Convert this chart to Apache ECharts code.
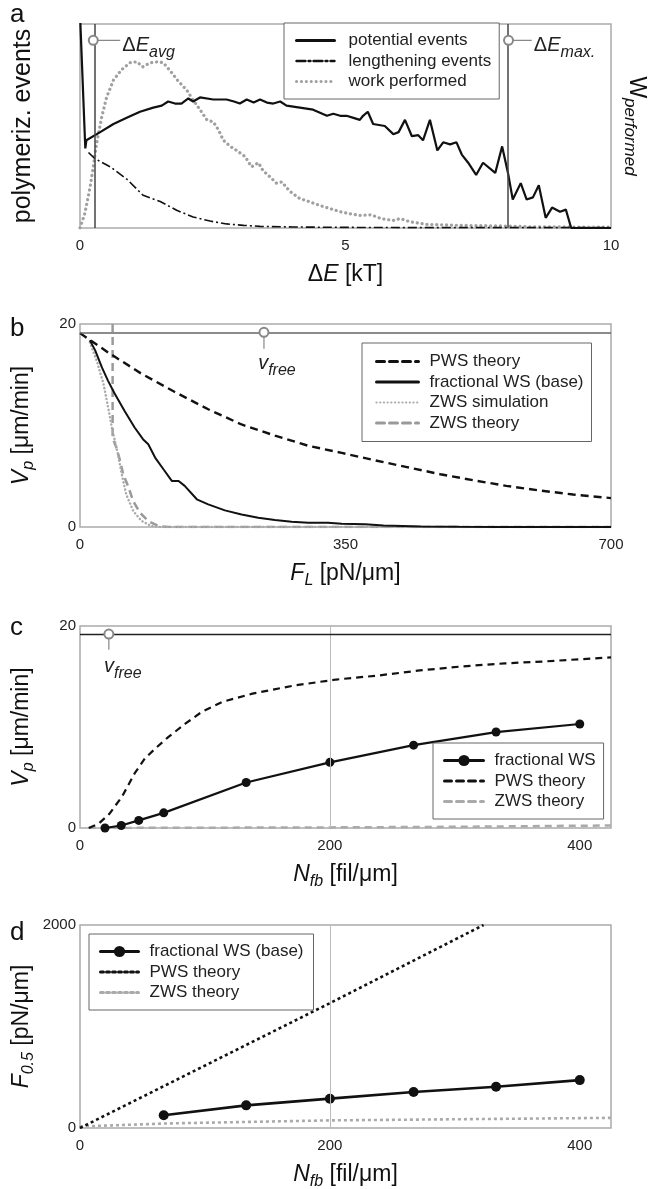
<!DOCTYPE html>
<html>
<head>
<meta charset="utf-8">
<script src="https://cdn.jsdelivr.net/npm/echarts@6.0.0/dist/echarts.min.js"></script>
<style>
  html, body { margin: 0; padding: 0; background: #fff; }
  #chart { width: 657px; height: 1189px; }
</style>
</head>
<body>
<div id="chart"></div>
<script>
// ---- panel a: polymerization events vs ΔE (normalized) ----
const aPotential = [[0.0, 1.05], [0.1, 0.39], [0.12, 0.43], [0.38, 0.47], [0.63, 0.51], [0.88, 0.54], [1.13, 0.57],
  [1.38, 0.59], [1.54, 0.60], [1.66, 0.62], [1.79, 0.61], [1.91, 0.61], [2.04, 0.635], [2.13, 0.62], [2.26, 0.64],
  [2.51, 0.63], [2.76, 0.63], [2.9, 0.62], [3.01, 0.61], [3.14, 0.63], [3.27, 0.615], [3.39, 0.63], [3.52, 0.615],
  [3.64, 0.61], [3.77, 0.62], [3.89, 0.60], [4.14, 0.59], [4.39, 0.58], [4.52, 0.565], [4.65, 0.55], [4.77, 0.56],
  [4.9, 0.55], [5.02, 0.55], [5.15, 0.54], [5.27, 0.53], [5.33, 0.55], [5.42, 0.57], [5.52, 0.51], [5.74, 0.50],
  [5.9, 0.46], [6.0, 0.47], [6.12, 0.53], [6.25, 0.45], [6.37, 0.455], [6.46, 0.43], [6.59, 0.53], [6.73, 0.38],
  [6.84, 0.42], [6.97, 0.41], [7.09, 0.42], [7.19, 0.36], [7.31, 0.32], [7.46, 0.26], [7.59, 0.32], [7.82, 0.27],
  [7.95, 0.40], [8.06, 0.27], [8.15, 0.14], [8.3, 0.22], [8.41, 0.14], [8.53, 0.15], [8.64, 0.21], [8.77, 0.05],
  [8.89, 0.10], [9.04, 0.08], [9.15, 0.09], [9.25, 0], [10, 0]];
const aLengthening = [[0.16, 0.37], [0.28, 0.34], [0.57, 0.30], [0.88, 0.24], [1.19, 0.16], [1.51, 0.13], [1.82, 0.087],
  [2.13, 0.054], [2.45, 0.034], [2.76, 0.02], [3.08, 0.013], [3.39, 0.008], [4.0, 0.005], [5, 0.003], [6, 0.002], [10, 0.002]];
const aWork = [[0, 0], [0.09, 0.07], [0.19, 0.2], [0.25, 0.3], [0.31, 0.41], [0.41, 0.545], [0.5, 0.64], [0.63, 0.725],
  [0.78, 0.775], [0.94, 0.81], [1.07, 0.815], [1.18, 0.79], [1.32, 0.81], [1.48, 0.815], [1.57, 0.81], [1.7, 0.77],
  [1.85, 0.72], [2.01, 0.676], [2.13, 0.627], [2.26, 0.58], [2.39, 0.53], [2.51, 0.52], [2.61, 0.48], [2.7, 0.43],
  [2.83, 0.4], [2.95, 0.38], [3.11, 0.35], [3.23, 0.3], [3.36, 0.32], [3.45, 0.28], [3.58, 0.25], [3.7, 0.22],
  [3.8, 0.226], [3.95, 0.18], [4.14, 0.144], [4.33, 0.128], [4.52, 0.11], [4.71, 0.095], [4.9, 0.08], [5.08, 0.07],
  [5.27, 0.062], [5.48, 0.065], [5.67, 0.046], [5.9, 0.037], [6.03, 0.046], [6.22, 0.03], [6.53, 0.018], [7.16, 0.013],
  [7.97, 0.01], [8.5, 0.006], [10, 0.004]];
const aEnergyLines = [0.27, 8.06];            // ΔE_avg, ΔE_max
const aAvgTag = [[0.25, 0.92], [0.75, 0.92]];
const aMaxTag = [[8.07, 0.92], [8.5, 0.92]];

// ---- panel b: V_p vs F_L ----
const bPws = [[0, 19.1], [37, 17.2], [81, 15.1], [125, 13.3], [169, 11.6], [213, 10.1], [257, 9.0], [301, 8.0],
  [345, 7.3], [387, 6.6], [431, 5.9], [475, 5.2], [519, 4.6], [562, 4.05], [606, 3.6], [650, 3.2], [700, 2.85]];
const bFractional = [[13, 18.4], [20, 17.4], [29, 15.7], [37, 14.4], [46, 13.1], [59, 11.4], [72, 9.8], [83, 8.65],
  [90, 8.15], [99, 6.84], [110, 5.69], [121, 4.54], [130, 4.54], [138, 4.05], [154, 2.73], [169, 2.23], [191, 1.64],
  [213, 1.24], [235, 0.92], [257, 0.69], [279, 0.52], [301, 0.42], [327, 0.42], [345, 0.33], [376, 0.26], [400, 0.15],
  [450, 0.06], [500, 0.02], [550, 0], [700, 0]];
const bZwsSim = [[13, 18.2], [22, 16.4], [31, 14.1], [37, 11.8], [42, 9.8], [50, 7.2], [55, 5.2], [61, 3.2], [70, 1.6],
  [81, 0.6], [94, 0.1], [105, 0], [700, 0]];
const bZwsTheory = [[43, 20], [43, 8.8], [48, 7.8], [53, 6.5], [57, 5.2], [64, 3.9], [70, 2.57], [79, 1.41], [90, 0.59],
  [103, 0.1], [116, 0], [700, 0]];
const bVfree = 19.18;
const bVfreeTag = [[242.5, 19.18], [242.5, 17.6]];

// ---- panel c: V_p vs N_fb ----
const cNfb = [20, 33, 47, 67, 133, 200, 267, 333, 400];
const cFractional = [0, 0.25, 0.75, 1.5, 4.5, 6.5, 8.2, 9.5, 10.3];
const cPws = [[7, 0], [15, 0.43], [23.5, 1.4], [33.6, 3.1], [43.7, 5.4], [52, 6.9], [60.5, 7.9], [70.6, 9.0], [84, 10.3],
  [97.5, 11.5], [114, 12.5], [138, 13.3], [171, 14.1], [205, 14.7], [239, 15.1], [272, 15.6], [306, 16.0], [340, 16.3],
  [373, 16.5], [425, 16.9]];
const cZws = [[7, 0], [100, 0.03], [200, 0.06], [300, 0.12], [425, 0.25]];
const cVfree = 19.2;
const cVfreeTag = [[23.1, 19.2], [23.1, 17.7]];

// ---- panel d: F_0.5 vs N_fb ----
const dNfb = [67, 133, 200, 267, 333, 400];
const dFractional = [125, 223, 289, 354, 407, 472];
const dPws = [[0, 0], [200, 1230], [323, 2000]];
const dZws = [[0, 15], [70, 45], [200, 75], [425, 100]];

const gridLine = 200;

const FONT = '"Liberation Sans", Arial, Helvetica, sans-serif';
const INK = '#111';

const nameRich = {
  n: { fontSize: 23, lineHeight: 30, fontFamily: FONT, color: INK },
  i: { fontSize: 23, lineHeight: 30, fontFamily: FONT, color: INK, fontStyle: 'italic' },
  s: { fontSize: 16, lineHeight: 16, fontFamily: FONT, color: INK, fontStyle: 'italic', verticalAlign: 'bottom' },
  big: { fontSize: 25, lineHeight: 30, fontFamily: FONT, color: INK },
  w: { fontSize: 23, lineHeight: 30, fontFamily: FONT, color: INK },
  ws: { fontSize: 17, lineHeight: 17, fontFamily: FONT, color: INK, fontStyle: 'italic', verticalAlign: 'bottom' }
};
const tagRich = {
  n: { fontSize: 20, lineHeight: 30, fontFamily: FONT, color: '#222' },
  i: { fontSize: 20, lineHeight: 30, fontFamily: FONT, color: '#222', fontStyle: 'italic' },
  s: { fontSize: 16, lineHeight: 16, fontFamily: FONT, color: '#222', fontStyle: 'italic', verticalAlign: 'bottom' }
};

const xAxisBase = (gridIndex, min, max, interval, name, showMax) => ({
  type: 'value', gridIndex, min, max, interval,
  axisLine: { show: false }, axisTick: { show: false }, splitLine: { show: false },
  axisLabel: { fontSize: 15, color: '#222', margin: 10, fontFamily: FONT, showMaxLabel: showMax,
    formatter: v => String(v) },
  name, nameLocation: 'middle', nameGap: 32, nameMoveOverlap: false,
  nameTextStyle: { lineHeight: 30, rich: nameRich }
});
const yAxisBase = (gridIndex, min, max, interval, name, showLabels) => ({
  type: 'value', gridIndex, min, max, interval,
  axisLine: { show: false }, axisTick: { show: false }, splitLine: { show: false },
  axisLabel: { show: showLabels, fontSize: 15, color: '#222', margin: 4, fontFamily: FONT,
    formatter: v => String(v) },
  name, nameLocation: 'middle', nameGap: 43, nameMoveOverlap: false,
  nameTextStyle: { lineHeight: 30, rich: nameRich }
});

// legend items: plain lines get an invisible marker, marked lines keep their circle
const legendItem = (name, width, marker) => ({
  name,
  lineStyle: { width, cap: 'round' },
  itemStyle: marker ? {} : { opacity: 0 }
});
const legendBase = (items, left, top, itemWidth, padding, textGap) => ({
  data: items.map(it => legendItem(it[0], it[1], it[2])),
  left, top, orient: 'vertical', itemWidth, itemHeight: 14, itemGap: 3.5, padding,
  borderColor: '#666', borderWidth: 1, backgroundColor: '#fff', selectedMode: false,
  textStyle: { fontSize: 17, lineHeight: 14, color: '#222', fontFamily: FONT, padding: [0, 0, 0, textGap] },
  formatter: name => name.slice(2)
});

const vline = (values, color, width) => ({
  silent: true, symbol: ['none', 'none'], label: { show: false },
  lineStyle: { color, width, type: 'solid' },
  data: values.map(v => ({ xAxis: v }))
});
const hline = (value, color, width) => ({
  silent: true, symbol: ['none', 'none'], label: { show: false },
  lineStyle: { color, width, type: 'solid' },
  data: [{ yAxis: value }]
});

// small circle + leader line + italic label
const tag = (xi, yi, pts, text, position, offset, lineColor) => ({
  type: 'line', xAxisIndex: xi, yAxisIndex: yi, silent: true, z: 6,
  lineStyle: { color: lineColor, width: 1.2 },
  itemStyle: { color: '#888', borderWidth: 1.2 },
  data: [
    { value: pts[0], symbol: 'emptyCircle', symbolSize: 9 },
    { value: pts[1], symbol: 'circle', symbolSize: 1,
      label: { show: true, position, distance: 2, offset, formatter: text, rich: tagRich } }
  ]
});

const chart = echarts.init(document.getElementById('chart'), null, { renderer: 'canvas' });

const option = {
  animation: false,
  backgroundColor: '#fff',
  title: [
    { text: 'a', left: 10, top: 2 },
    { text: 'b', left: 10, top: 316 },
    { text: 'c', left: 10, top: 615 },
    { text: 'd', left: 10, top: 920 }
  ].map(t => ({ ...t, padding: 0, textStyle: { fontSize: 26, fontWeight: 'normal', color: INK, fontFamily: FONT } })),
  grid: [
    { left: 80, top: 24, width: 531, height: 204 },
    { left: 80, top: 324, width: 531, height: 203 },
    { left: 80, top: 626, width: 531, height: 202 },
    { left: 80, top: 925, width: 531, height: 203 }
  ].map(g => ({ ...g, show: true, borderColor: '#aaa', borderWidth: 1.5, backgroundColor: 'transparent',
    containLabel: false, outerBoundsMode: 'none' })),
  xAxis: [
    xAxisBase(0, 0, 10, 5, '{n|Δ}{i|E}{n| [kT]}', true),
    xAxisBase(1, 0, 700, 350, '{i|F}{s|L}{n| [pN/μm]}', true),
    xAxisBase(2, 0, 425, 200, '{i|N}{s|fb}{n| [fil/μm]}', false),
    xAxisBase(3, 0, 425, 200, '{i|N}{s|fb}{n| [fil/μm]}', false)
  ],
  yAxis: [
    { ...yAxisBase(0, 0, 1, 1, '{big|polymeriz. events}', false), nameGap: 42 },
    { ...yAxisBase(0, 0, 1, 1, '{w|W}{ws|performed}', false), position: 'right', nameRotate: -90, nameGap: 10 },
    yAxisBase(1, 0, 20, 20, '{i|V}{s|p}{n| [μm/min]}', true),
    yAxisBase(2, 0, 20, 20, '{i|V}{s|p}{n| [μm/min]}', true),
    yAxisBase(3, 0, 2000, 2000, '{i|F}{s|0.5}{n| [pN/μm]}', true)
  ],
  legend: [
    legendBase([['a:potential events', 3], ['a:lengthening events', 2.4], ['a:work performed', 3]],
      284, 23, 38, [9, 8, 9, 11], 9),
    legendBase([['b:PWS theory', 3], ['b:fractional WS (base)', 3], ['b:ZWS simulation', 2.2], ['b:ZWS theory', 3]],
      362, 343, 42, [10, 8, 10, 13], 6),
    legendBase([['c:fractional WS', 3, true], ['c:PWS theory', 3], ['c:ZWS theory', 3]], 433, 743, 39, [9, 8, 9, 10], 6),
    legendBase([['d:fractional WS (base)', 3, true], ['d:PWS theory', 3], ['d:ZWS theory', 3]], 89, 934, 38, [9, 10, 9, 10], 6)
  ],
  series: [
    // a
    { name: 'a:work performed', type: 'line', xAxisIndex: 0, yAxisIndex: 0, data: aWork, symbol: 'none',
      lineStyle: { color: '#a0a0a0', width: 3.2, type: [0.1, 4.8], cap: 'round' }, itemStyle: { color: '#a0a0a0' } },
    { name: 'a:lengthening events', type: 'line', xAxisIndex: 0, yAxisIndex: 0, data: aLengthening, symbol: 'none',
      lineStyle: { color: INK, width: 1.6, type: [9, 3, 2, 3] }, itemStyle: { color: INK } },
    { name: 'a:potential events', type: 'line', xAxisIndex: 0, yAxisIndex: 0, data: aPotential, symbol: 'none',
      lineStyle: { color: INK, width: 2.2 }, itemStyle: { color: INK },
      markLine: vline(aEnergyLines, '#444', 1.5) },
    tag(0, 0, aAvgTag, '{n|Δ}{i|E}{s|avg}', 'right', [0, 5], '#888'),
    tag(0, 0, aMaxTag, '{n|Δ}{i|E}{s|max.}', 'right', [0, 5], '#888'),

    // b
    { name: 'b:ZWS theory', type: 'line', xAxisIndex: 1, yAxisIndex: 2, data: bZwsTheory, symbol: 'none',
      lineStyle: { color: '#9a9a9a', width: 2.5, type: [8, 5] }, itemStyle: { color: '#9a9a9a' } },
    { name: 'b:ZWS simulation', type: 'line', xAxisIndex: 1, yAxisIndex: 2, data: bZwsSim, symbol: 'none',
      lineStyle: { color: '#aaa', width: 2.5, type: [0.1, 3.6], cap: 'round' }, itemStyle: { color: '#aaa' } },
    { name: 'b:fractional WS (base)', type: 'line', xAxisIndex: 1, yAxisIndex: 2, data: bFractional, symbol: 'none',
      lineStyle: { color: INK, width: 2 }, itemStyle: { color: INK } },
    { name: 'b:PWS theory', type: 'line', xAxisIndex: 1, yAxisIndex: 2, data: bPws, symbol: 'none',
      lineStyle: { color: INK, width: 2.4, type: [8, 5] }, itemStyle: { color: INK },
      markLine: hline(bVfree, '#666', 1.5) },
    tag(1, 2, bVfreeTag, '{i|v}{s|free}', 'bottom', [13, -2], '#888'),

    // c
    { name: 'c:ZWS theory', type: 'line', xAxisIndex: 2, yAxisIndex: 3, data: cZws, symbol: 'none',
      lineStyle: { color: '#aaa', width: 2.5, type: [7, 5] }, itemStyle: { color: '#aaa' },
      markLine: vline([gridLine], '#bbb', 1) },
    { name: 'c:PWS theory', type: 'line', xAxisIndex: 2, yAxisIndex: 3, data: cPws, symbol: 'none',
      lineStyle: { color: INK, width: 2.2, type: [7, 5] }, itemStyle: { color: INK },
      markLine: hline(cVfree, '#222', 1.3) },
    { name: 'c:fractional WS', type: 'line', xAxisIndex: 2, yAxisIndex: 3,
      data: cNfb.map((x, i) => [x, cFractional[i]]), symbol: 'circle', symbolSize: 9, showAllSymbol: true,
      lineStyle: { color: INK, width: 2.2 }, itemStyle: { color: INK } },
    tag(2, 3, cVfreeTag, '{i|v}{s|free}', 'bottom', [14, 0], '#888'),

    // d
    { name: 'd:ZWS theory', type: 'line', xAxisIndex: 3, yAxisIndex: 4, data: dZws, symbol: 'none',
      lineStyle: { color: '#aaa', width: 2.6, type: [3, 3] }, itemStyle: { color: '#aaa' },
      markLine: vline([gridLine], '#bbb', 1) },
    { name: 'd:PWS theory', type: 'line', xAxisIndex: 3, yAxisIndex: 4, data: dPws, symbol: 'none',
      lineStyle: { color: INK, width: 2.6, type: [3, 3] }, itemStyle: { color: INK } },
    { name: 'd:fractional WS (base)', type: 'line', xAxisIndex: 3, yAxisIndex: 4,
      data: dNfb.map((x, i) => [x, dFractional[i]]), symbol: 'circle', symbolSize: 10, showAllSymbol: true,
      lineStyle: { color: INK, width: 2.6 }, itemStyle: { color: INK } }
  ]
};

chart.setOption(option);
</script>
</body>
</html>
